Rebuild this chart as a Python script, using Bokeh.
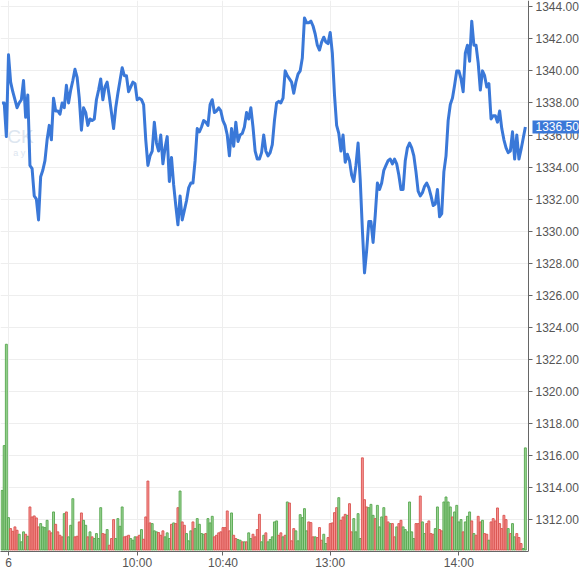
from bokeh.plotting import figure
from bokeh.models import (Range1d, FixedTicker, SingleIntervalTicker, PrintfTickFormatter,
                          ColumnDataSource, Label, LinearAxis, BoxAnnotation)
from bokeh.embed import file_html
from bokeh.resources import INLINE

# ---- data (1-minute bars; index 0 = 09:00) ----
first_index = -3
price = [
    1338.0, 1338.0, 1335.9, 1341.0, 1339.3, 1338.7, 1338.2, 1337.7, 1338.0, 1338.2,
    1339.4, 1337.1, 1338.5, 1334.1, 1333.9, 1332.2, 1332.0, 1330.7, 1333.4, 1333.8,
    1334.4, 1335.7, 1336.6, 1335.7, 1338.3, 1337.5, 1337.5, 1337.3, 1338.0, 1337.7,
    1339.1, 1338.0, 1338.8, 1339.4, 1340.1, 1339.6, 1338.3, 1336.3, 1337.7, 1337.4,
    1336.6, 1337.0, 1336.9, 1337.0, 1338.2, 1338.8, 1339.5, 1338.2, 1339.0, 1339.3,
    1338.4, 1337.4, 1336.4, 1337.7, 1338.6, 1339.4, 1340.2, 1339.7, 1339.7, 1338.7,
    1339.0, 1339.3, 1339.2, 1338.2, 1338.3, 1338.2, 1337.9, 1335.7, 1334.1, 1334.7,
    1335.0, 1336.8, 1335.5, 1335.0, 1336.0, 1334.2, 1335.2, 1335.9, 1333.1, 1334.6,
    1332.9, 1331.6, 1330.4, 1332.2, 1330.7, 1331.3, 1331.9, 1332.7, 1333.0, 1333.0,
    1334.4, 1336.4, 1336.2, 1336.5, 1336.9, 1336.8, 1336.6, 1337.9, 1338.2, 1337.4,
    1337.5, 1337.7, 1337.5, 1336.9, 1336.6, 1336.0, 1334.7, 1336.4, 1335.3, 1336.8,
    1335.6, 1336.0, 1336.1, 1336.5, 1337.4, 1337.0, 1337.7, 1336.5, 1335.0, 1334.5,
    1334.5, 1334.9, 1336.0, 1335.0, 1334.7, 1334.9, 1335.4, 1336.9, 1338.0, 1338.1,
    1338.0, 1338.3, 1340.0, 1339.7, 1339.5, 1339.3, 1338.6, 1339.3, 1339.8, 1340.0,
    1340.8, 1343.3, 1343.0, 1343.0, 1343.1, 1342.8, 1342.3, 1341.6, 1341.3, 1341.8,
    1342.1, 1341.8, 1341.7, 1342.4, 1341.1, 1338.5, 1336.6, 1336.1, 1335.0, 1336.0,
    1334.3, 1334.8, 1334.4, 1333.5, 1333.1, 1334.1, 1335.5, 1333.2, 1330.1, 1327.4,
    1328.8, 1330.6, 1330.6, 1329.3, 1331.0, 1333.0, 1332.6, 1333.0, 1333.8, 1334.1,
    1334.4, 1334.5, 1334.2, 1334.5, 1334.2, 1333.5, 1332.6, 1332.6, 1334.4, 1335.2,
    1335.5, 1335.2, 1334.7, 1333.7, 1332.5, 1332.2, 1332.4, 1332.8, 1333.0, 1332.7,
    1332.2, 1331.6, 1331.7, 1332.6, 1330.9, 1331.1, 1333.7, 1334.7, 1336.9, 1337.9,
    1338.3, 1339.1, 1340.0, 1340.0, 1339.5, 1338.7, 1341.1, 1341.6, 1340.6, 1343.1,
    1341.6, 1341.6, 1340.5, 1338.8, 1340.0, 1339.7, 1339.0, 1339.2, 1337.0, 1337.2,
    1337.2, 1336.8, 1337.5, 1336.4, 1335.7, 1335.2, 1334.9, 1335.0, 1336.2, 1334.5,
    1336.0, 1334.5, 1335.1, 1335.8, 1336.5,
]
volume = [
    598, 1048, 2065, 325, 215, 188, 232, 198, 158, 82,
    182, 158, 138, 432, 332, 342, 322, 232, 265, 232,
    225, 298, 192, 172, 382, 258, 182, 148, 132, 365,
    382, 132, 248, 515, 132, 138, 282, 372, 298, 248,
    132, 182, 132, 115, 165, 115, 425, 165, 158, 205,
    48, 115, 305, 115, 315, 238, 432, 132, 138, 148,
    115, 98, 132, 132, 148, 205, 108, 332, 692, 272,
    265, 192, 182, 175, 148, 192, 132, 172, 115, 258,
    272, 265, 425, 592, 282, 248, 165, 92, 192, 282,
    215, 315, 258, 165, 158, 165, 315, 272, 338, 132,
    148, 172, 182, 225, 225, 392, 192, 372, 148, 115,
    105, 98, 82, 82, 82, 172, 115, 158, 132, 205,
    358, 82, 148, 172, 82, 105, 132, 282, 292, 148,
    172, 132, 148, 482, 472, 92, 215, 192, 92, 355,
    325, 415, 192, 282, 275, 132, 132, 125, 225, 98,
    158, 65, 125, 265, 272, 375, 425, 525, 298, 332,
    358, 348, 465, 182, 315, 182, 365, 115, 925, 505,
    432, 425, 458, 348, 315, 448, 232, 332, 425, 338,
    282, 265, 265, 132, 232, 265, 298, 232, 205, 182,
    482, 182, 115, 265, 265, 542, 282, 165, 265, 292,
    165, 158, 215, 432, 205, 192, 482, 532, 482, 432,
    332, 382, 448, 282, 305, 182, 282, 338, 382, 292,
    165, 148, 338, 282, 298, 165, 158, 98, 282, 315,
    292, 422, 265, 215, 348, 305, 215, 165, 265, 132,
    165, 125, 65, 15, 1025,
]
vol_up = [
    1, 1, 1, 1, 0, 0, 0, 0, 1, 1,
    1, 0, 1, 0, 0, 0, 0, 0, 1, 1,
    1, 1, 0, 0, 1, 0, 0, 0, 0, 1,
    0, 1, 1, 1, 0, 0, 0, 0, 1, 1,
    0, 1, 0, 1, 1, 1, 1, 0, 0, 1,
    0, 0, 0, 1, 1, 1, 1, 0, 0, 0,
    1, 1, 1, 0, 0, 1, 0, 0, 0, 0,
    1, 1, 1, 0, 0, 0, 1, 1, 1, 0,
    1, 0, 0, 1, 0, 0, 1, 1, 1, 0,
    1, 1, 1, 1, 1, 0, 1, 1, 1, 0,
    0, 0, 0, 0, 0, 0, 0, 1, 0, 0,
    1, 1, 0, 1, 0, 1, 1, 0, 0, 0,
    0, 1, 1, 0, 1, 1, 1, 1, 1, 0,
    0, 1, 0, 1, 0, 0, 0, 1, 1, 1,
    1, 1, 1, 0, 0, 0, 1, 0, 0, 0,
    1, 1, 0, 0, 0, 0, 0, 1, 0, 0,
    0, 1, 0, 0, 1, 1, 1, 1, 0, 0,
    0, 1, 1, 1, 0, 1, 1, 1, 1, 0,
    0, 1, 0, 0, 1, 0, 0, 1, 1, 1,
    1, 1, 1, 0, 0, 0, 1, 1, 0, 0,
    0, 0, 1, 1, 0, 0, 1, 1, 1, 1,
    0, 1, 1, 1, 1, 0, 1, 1, 1, 0,
    1, 0, 0, 0, 1, 0, 0, 1, 0, 0,
    0, 0, 0, 0, 0, 0, 1, 0, 1, 1,
    0, 0, 0, 1, 1,
]
tick_index = [0, 60, 100, 150, 210]
tick_text = ["6", "10:00", "10:40", "13:00", "14:00"]
last_price = 1336.50

# ---- layout constants ----
X_START = -3.73          # left edge of the plot area (index units)
AXIS_X = 242.46          # where the price axis sits (index units)
X_END = 266.24           # right edge of the canvas (index units)

idx = list(range(first_index, first_index + len(price)))
UP_FILL, UP_LINE = "#93d08c", "#55a64e"
DN_FILL, DN_LINE = "#f7898a", "#d9534f"
src = ColumnDataSource(dict(
    x=idx, price=price, vol=volume,
    fill=[UP_FILL if u else DN_FILL for u in vol_up],
    line=[UP_LINE if u else DN_LINE for u in vol_up],
))

FONT = "Liberation Sans"
p = figure(width=579, height=572, output_backend="svg", toolbar_location=None,
           x_range=Range1d(X_START, X_END), y_range=Range1d(1310.02, 1344.39),
           y_axis_location=None, min_border_left=0, min_border_top=0,
           min_border_right=0, min_border_bottom=19)
p.outline_line_color = None
p.background_fill_color = "white"
p.extra_y_ranges = {"vol": Range1d(-15, 5515)}

# price axis drawn at a fixed location (labels to its right)
ya = LinearAxis(fixed_location=AXIS_X)
p.add_layout(ya, "right")
ya.ticker = SingleIntervalTicker(interval=2, num_minor_ticks=0)
ya.formatter = PrintfTickFormatter(format="%.2f")
p.ygrid.ticker = ya.ticker

# white area behind the price labels (covers grid lines there)
p.add_layout(BoxAnnotation(left=AXIS_X, fill_color="white", fill_alpha=1.0,
                           line_color=None, level="underlay"))

# watermark (faint logo fragment at the left edge)
p.add_layout(Label(x=11.7, y=1335.9, text="CK", text_align="right", text_baseline="middle",
                   text_font=FONT, text_font_size="19px", text_color="#dde6f0",
                   level="underlay"))
p.add_layout(Label(x=9.0, y=1334.85, text="a  y", text_align="right", text_baseline="middle",
                   text_font=FONT, text_font_size="9px", text_color="#dde6f0",
                   level="underlay"))

p.vbar(x="x", top="vol", bottom=0, width=0.9, y_range_name="vol", source=src,
       fill_color="fill", line_color="line", fill_alpha=0.9, line_alpha=0.9, line_width=1)
p.line(x="x", y="price", source=src, line_color="#3a78d8", line_width=3, line_join="round")

# axes styling
xa = p.xaxis[0]
xa.ticker = FixedTicker(ticks=tick_index, minor_ticks=[])
xa.major_label_overrides = {t: s for t, s in zip(tick_index, tick_text)}
xa.bounds = (X_START, AXIS_X)
for ax in (xa, ya):
    ax.axis_line_color = "#666666"
    ax.major_tick_line_color = "#666666"
    ax.major_tick_out = 4
    ax.major_tick_in = 0
    ax.minor_tick_line_color = None
    ax.major_label_text_font = FONT
    ax.major_label_text_font_size = "12px"
    ax.major_label_text_color = "#555555"
xa.major_label_standoff = 0
ya.major_label_standoff = 3

p.xgrid.ticker = xa.ticker
p.xgrid.grid_line_color = "#eeeeee"
p.ygrid.grid_line_color = "#eeeeee"

# last price tag
p.add_layout(Label(x=AXIS_X, y=last_price, text="%.2f" % last_price, text_align="left",
                   text_baseline="middle", text_font=FONT, text_font_size="12px",
                   text_color="white", background_fill_color="#3a78d8",
                   x_offset=4, padding=(3, 2), level="overlay"))

open("out.html", "w").write(file_html(p, INLINE))
